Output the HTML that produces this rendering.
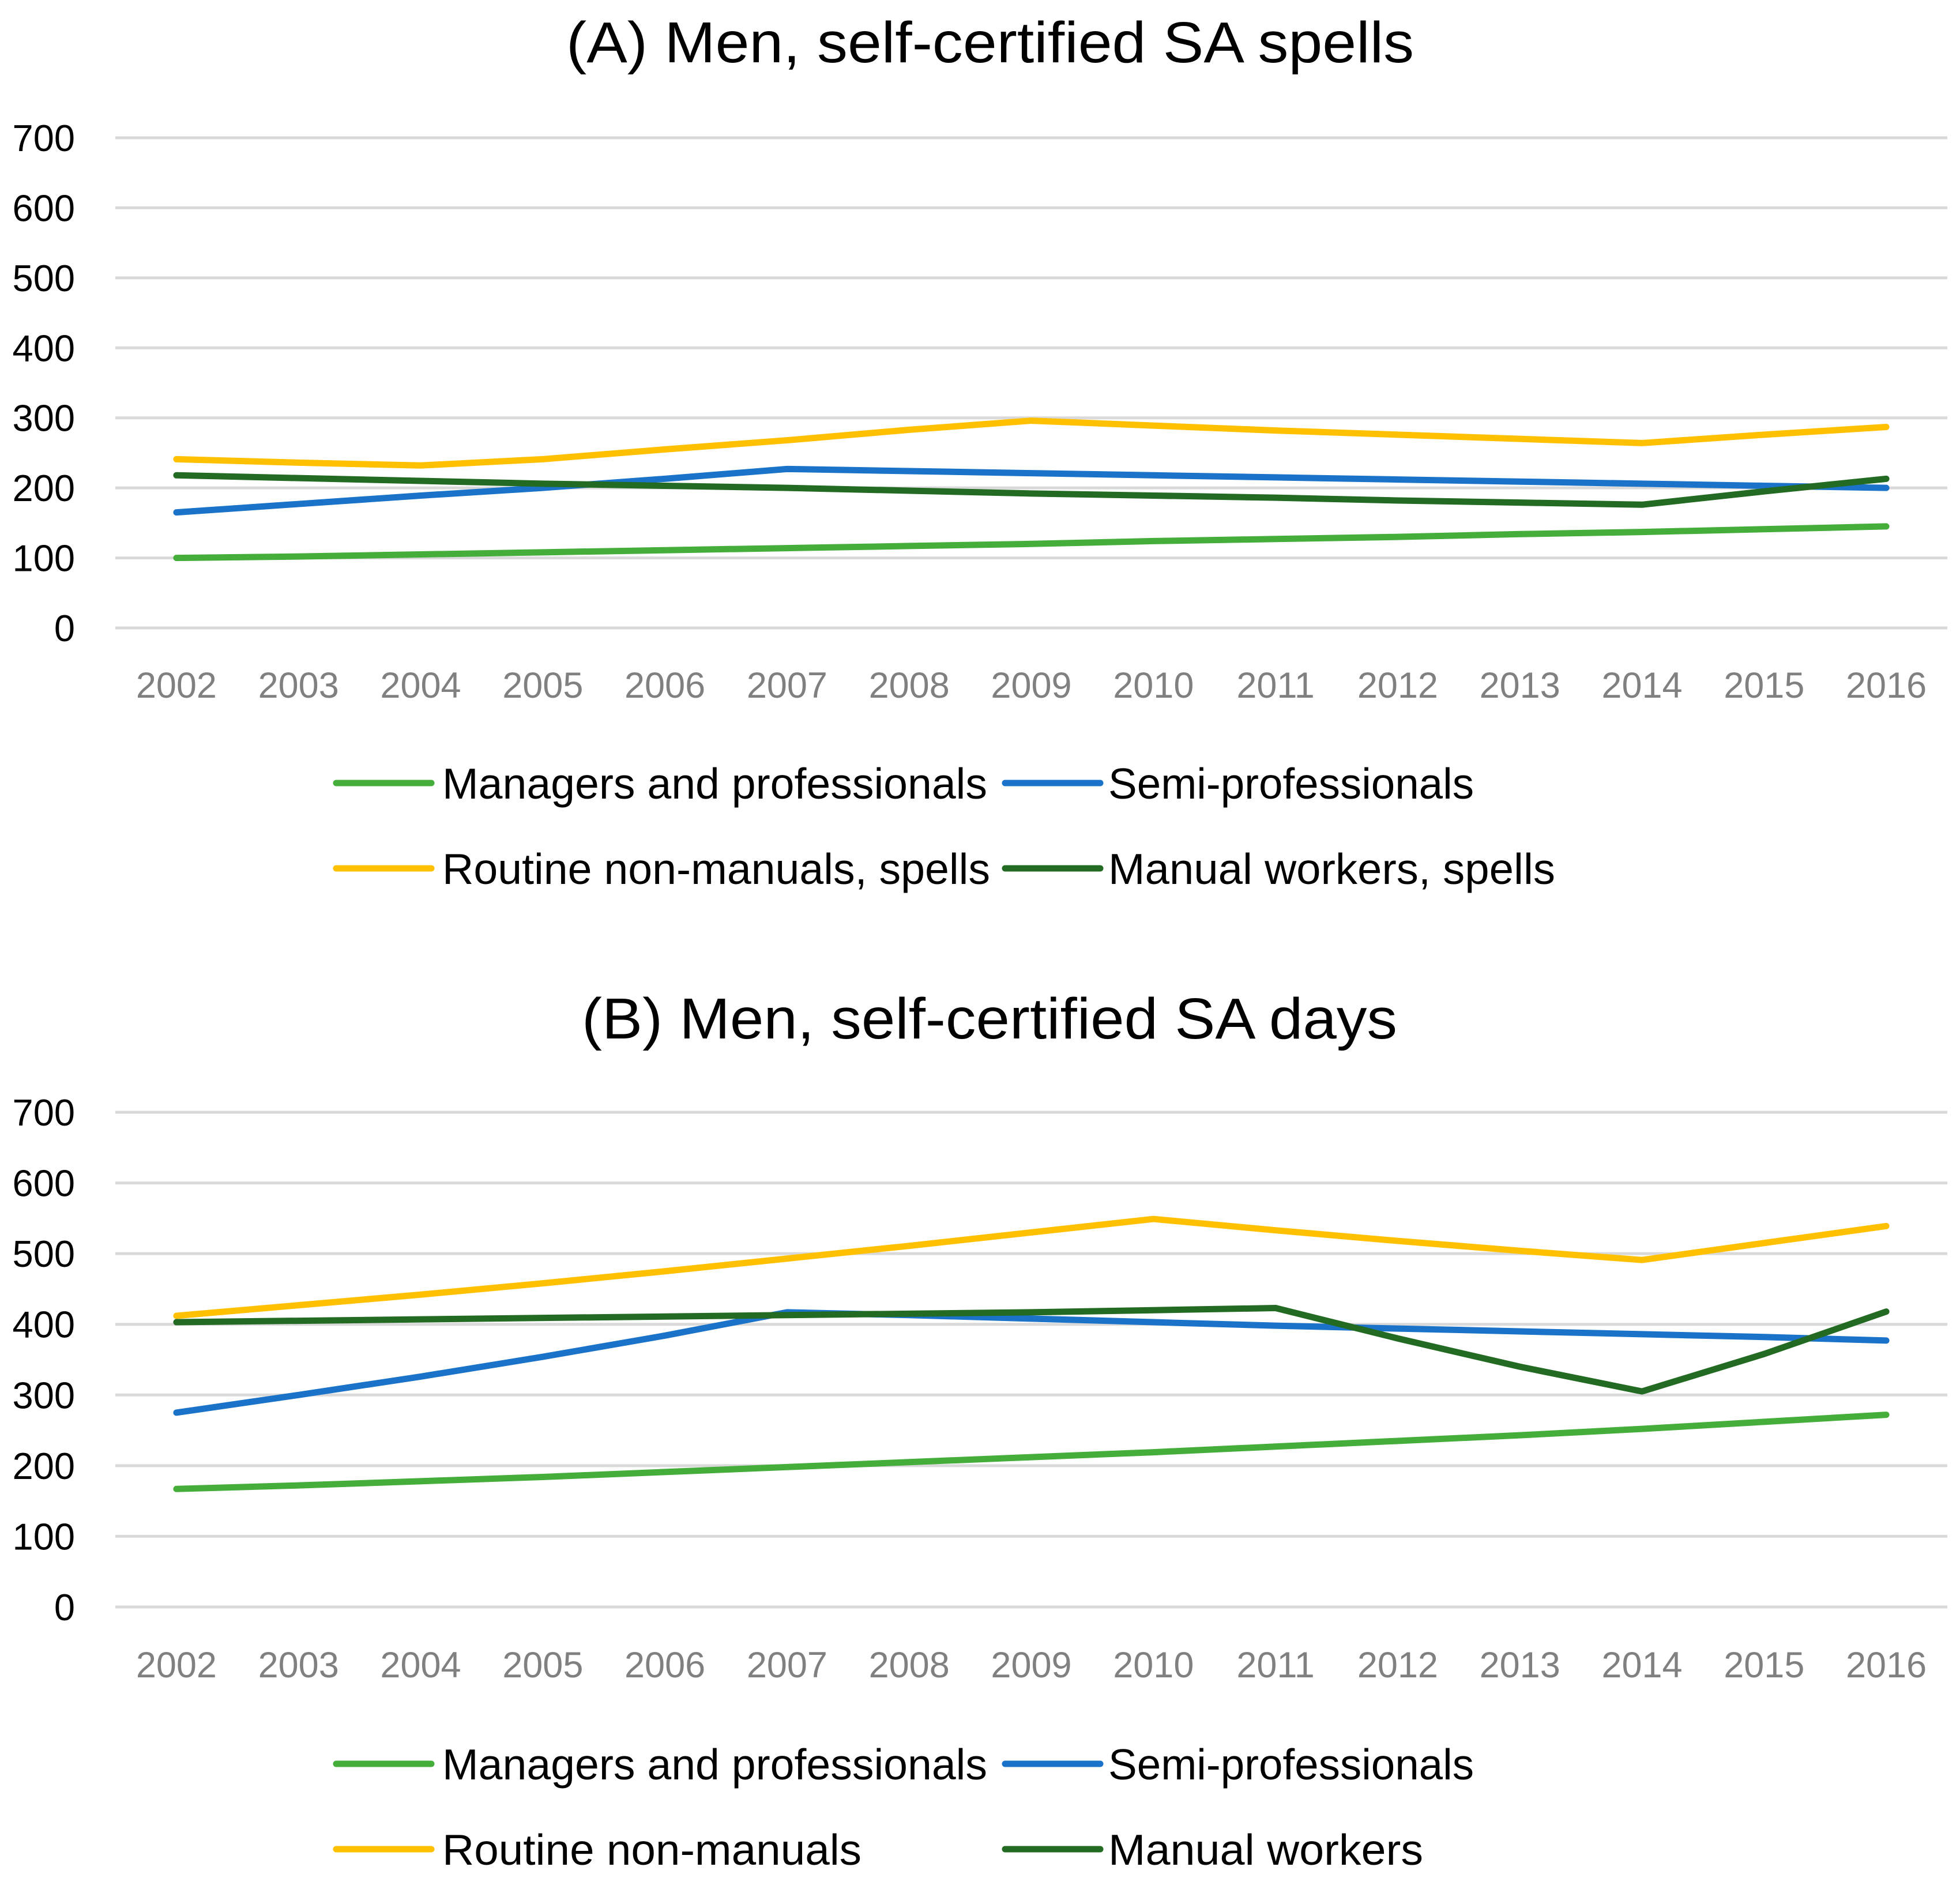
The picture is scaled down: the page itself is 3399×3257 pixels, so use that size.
<!DOCTYPE html>
<html><head><meta charset="utf-8"><style>
html,body{margin:0;padding:0;background:#fff}
svg{display:block}
text{font-family:"Liberation Sans",sans-serif}
</style></head><body>
<svg id="svg" xmlns="http://www.w3.org/2000/svg" width="3399" height="3257" viewBox="0 0 3399 3257"></svg>
<script>
const years = ["2002","2003","2004","2005","2006","2007","2008","2009","2010","2011","2012","2013","2014","2015","2016"];
const yTicks = [0,100,200,300,400,500,600,700];
const spellsManagers = [100,102,105,108,111,114,117,120,124,127,130,134,137,141,145];
const spellsSemi = [165,177,189,200,213,227,224,221,218,215,212,209,206,203,200];
const spellsRoutine = [241,236,232,241,255,268,283,296,289,282,276,270,264,276,287];
const spellsManual = [218,214,210,206,203,200,196,192,189,186,182,179,176,195,213];
const daysManagers = [167,172,178,184,191,198,205,212,219,227,235,243,252,262,272];
const daysSemi = [275,300,326,354,384,417,413,408,403,398,394,390,386,382,377];
const daysRoutine = [412,427,442,458,475,493,511,530,549,533,518,504,491,515,539];
const daysManual = [403,405,407,409,411,413,415,417,420,423,380,340,305,358,418];
const legendA = ["Managers and professionals","Semi-professionals","Routine non-manuals, spells","Manual workers, spells"];
const legendB = ["Managers and professionals","Semi-professionals","Routine non-manuals","Manual workers"];

const NS="http://www.w3.org/2000/svg";
const svg=document.getElementById('svg');
const colors=["#45ae3b","#1a73c8","#ffc000","#236a22"];
function mk(tag,attrs,parent){const e=document.createElementNS(NS,tag);for(const k in attrs)e.setAttribute(k,attrs[k]);(parent||svg).appendChild(e);return e;}

function panel(key,title,titleX,titleLen,titleY,y0,y700,xLabY,series,legend,legY1,legY2,legLens){
  const g=mk('g',{});
  
  
  const left=200,right=3377,step=(right-left)/years.length;
  const xs=i=>left+step*(i+0.5);
  const ys=v=>y0-(v/700)*(y0-y700);
  const t=mk('text',{x:titleX,y:titleY,'font-size':100,textLength:titleLen,lengthAdjust:'spacingAndGlyphs',fill:'#000'},g);
  t.textContent=title;
  
  
  yTicks.forEach(v=>{
    const l=mk('line',{x1:left,x2:right,y1:ys(v),y2:ys(v),stroke:'#d9d9d9','stroke-width':5},g);
    
    
    const tx=mk('text',{x:130,y:ys(v)+23,'font-size':65,'text-anchor':'end',fill:'#000'},g);
    tx.textContent=v;
    
    
  });
  years.forEach((yr,i)=>{
    const tx=mk('text',{x:xs(i),y:xLabY,'font-size':63,'text-anchor':'middle',fill:'#808080'},g);
    tx.textContent=yr;
    
    
  });
  series.forEach((s,k)=>{
    const p=mk('polyline',{points:s.map((v,i)=>xs(i)+','+ys(v)).join(' '),fill:'none',stroke:colors[k],'stroke-width':11,'stroke-linecap':'round','stroke-linejoin':'round'},g);
    
    
  });
  const pos=[[583,767,legY1],[1743,1922,legY1],[583,767,legY2],[1743,1922,legY2]];
  legend.forEach((name,k)=>{
    const [sx,tx0,cy]=pos[k];
    const sw=mk('line',{x1:sx,x2:sx+165,y1:cy,y2:cy,stroke:colors[k],'stroke-width':11,'stroke-linecap':'round'},g);
    
    
    const tx=mk('text',{x:tx0,y:cy+27,'font-size':75,textLength:legLens[k],lengthAdjust:'spacingAndGlyphs',fill:'#000'},g);
    tx.textContent=name;
    
    
  });
}
panel('a','(A) Men, self-certified SA spells',982,1470,108,1089,239,1210,
  [spellsManagers,spellsSemi,spellsRoutine,spellsManual],legendA,1358,1506,[945,634,950,775]);
panel('b','(B) Men, self-certified SA days',1009,1414,1801,2787,1929,2909,
  [daysManagers,daysSemi,daysRoutine,daysManual],legendB,3059,3207,[945,634,727,546]);
</script>
</body></html>
